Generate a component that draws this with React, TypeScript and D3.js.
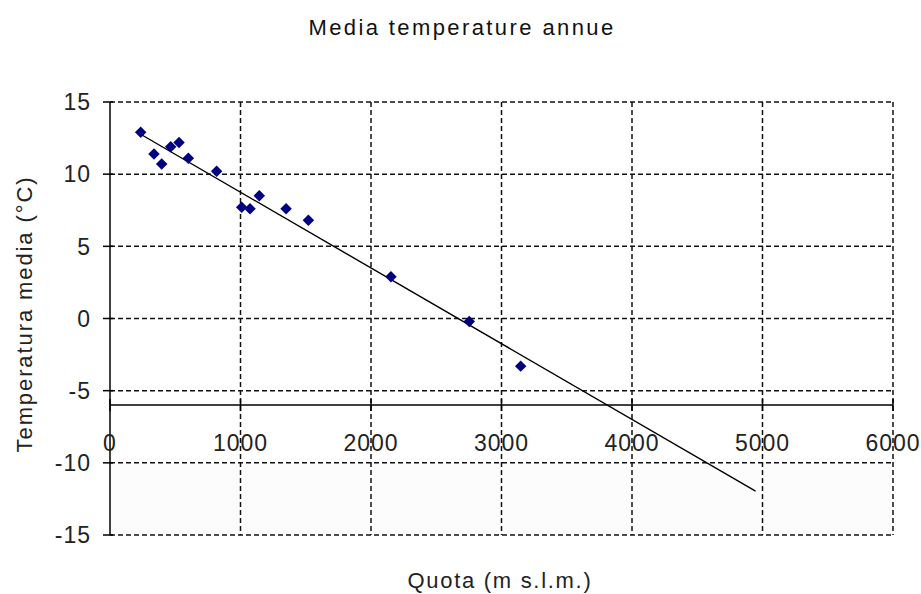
import React, { useEffect, useRef } from "react";
import * as d3 from "d3";

const quota = [235, 337, 396, 465, 529, 600, 817, 1009, 1073, 1144, 1349, 1520, 2153, 2753, 3147];
const temperatura = [12.9, 11.4, 10.7, 11.9, 12.2, 11.1, 10.2, 7.7, 7.6, 8.5, 7.6, 6.8, 2.9, -0.2, -3.3];
const xTicks = [0, 1000, 2000, 3000, 4000, 5000, 6000];
const yTicks = [-15, -10, -5, 0, 5, 10, 15];
const title = "Media temperature annue";
const xTitle = "Quota (m s.l.m.)";
const yTitle = "Temperatura media (°C)";
const trendForward = 1800;
const xCross = -6;

export default function App() {
  const ref = useRef<SVGSVGElement>(null);
  useEffect(() => {
    const svg = d3.select(ref.current);
    svg.selectAll("*").remove();
    const W = 921, H = 594;
    const left = 110, right = 893, top = 102, bottom = 535;
    const x = d3.scaleLinear().domain([0, 6000]).range([left, right]);
    const y = d3.scaleLinear().domain([-15, 15]).range([bottom, top]);
    const font = "'Liberation Sans', Arial, sans-serif";

    svg.append("rect").attr("width", W).attr("height", H).attr("fill", "#fff");
    svg.append("rect").attr("x", left).attr("y", y(-10)).attr("width", right - left)
      .attr("height", bottom - y(-10)).attr("fill", "#fcfcfc");

    // grid
    const g = svg.append("g").attr("stroke", "#111").attr("stroke-width", 1.5).attr("stroke-dasharray", "5,3");
    xTicks.filter(t => t > 0).forEach(t => {
      g.append("line").attr("x1", x(t)).attr("x2", x(t)).attr("y1", top).attr("y2", bottom);
    });
    yTicks.forEach(t => {
      g.append("line").attr("x1", left).attr("x2", right).attr("y1", y(t)).attr("y2", y(t));
    });

    // axes
    const ax = svg.append("g").attr("stroke", "#000").attr("stroke-width", 1.5);
    ax.append("line").attr("x1", left).attr("x2", left).attr("y1", top).attr("y2", bottom);
    ax.append("line").attr("x1", left).attr("x2", right).attr("y1", y(xCross)).attr("y2", y(xCross));
    yTicks.forEach(t => {
      ax.append("line").attr("x1", left - 7).attr("x2", left + 3).attr("y1", y(t)).attr("y2", y(t));
    });
    xTicks.forEach(t => {
      ax.append("line").attr("x1", x(t)).attr("x2", x(t)).attr("y1", y(xCross) - 6).attr("y2", y(xCross) + 6);
    });

    // tick labels
    const tl = svg.append("g").attr("font-family", font).attr("font-size", 23).attr("fill", "#222")
      .attr("letter-spacing", 1);
    yTicks.forEach(t => {
      tl.append("text").attr("x", 91).attr("y", y(t)).attr("dy", "0.36em").attr("text-anchor", "end").text(String(t));
    });
    xTicks.forEach(t => {
      tl.append("text").attr("x", x(t)).attr("y", y(xCross) + 46).attr("text-anchor", "middle").text(String(t));
    });

    // titles
    svg.append("text").attr("x", 462).attr("y", 35).attr("text-anchor", "middle")
      .attr("font-family", font).attr("font-size", 22).attr("letter-spacing", 2.4).attr("fill", "#111").text(title);
    svg.append("text").attr("x", 500).attr("y", 588).attr("text-anchor", "middle")
      .attr("font-family", font).attr("font-size", 22).attr("letter-spacing", 1.7).attr("fill", "#222").text(xTitle);
    svg.append("text").attr("transform", `translate(32,314) rotate(-90)`).attr("text-anchor", "middle")
      .attr("font-family", font).attr("font-size", 22).attr("letter-spacing", 1.9).attr("fill", "#222").text(yTitle);

    // trend line (least squares)
    const mx = d3.mean(quota)!, my = d3.mean(temperatura)!;
    let sxy = 0, sxx = 0;
    quota.forEach((q, i) => { sxy += (q - mx) * (temperatura[i] - my); sxx += (q - mx) ** 2; });
    const slope = sxy / sxx, icpt = my - slope * mx;
    const x0 = d3.min(quota)!, x1 = d3.max(quota)! + trendForward;
    svg.append("line").attr("x1", x(x0)).attr("y1", y(icpt + slope * x0))
      .attr("x2", x(x1)).attr("y2", y(icpt + slope * x1)).attr("stroke", "#000").attr("stroke-width", 1.4);

    // points
    const sym = d3.symbol().type(d3.symbolDiamond2).size(84);
    svg.append("g").selectAll("path").data(quota).join("path")
      .attr("transform", (q, i) => `translate(${x(q)},${y(temperatura[i])})`)
      .attr("d", sym() as string).attr("fill", "#000080");
  }, []);
  return <svg ref={ref} width={921} height={594} style={{ position: "absolute", left: 0, top: 0 }} />;
}
